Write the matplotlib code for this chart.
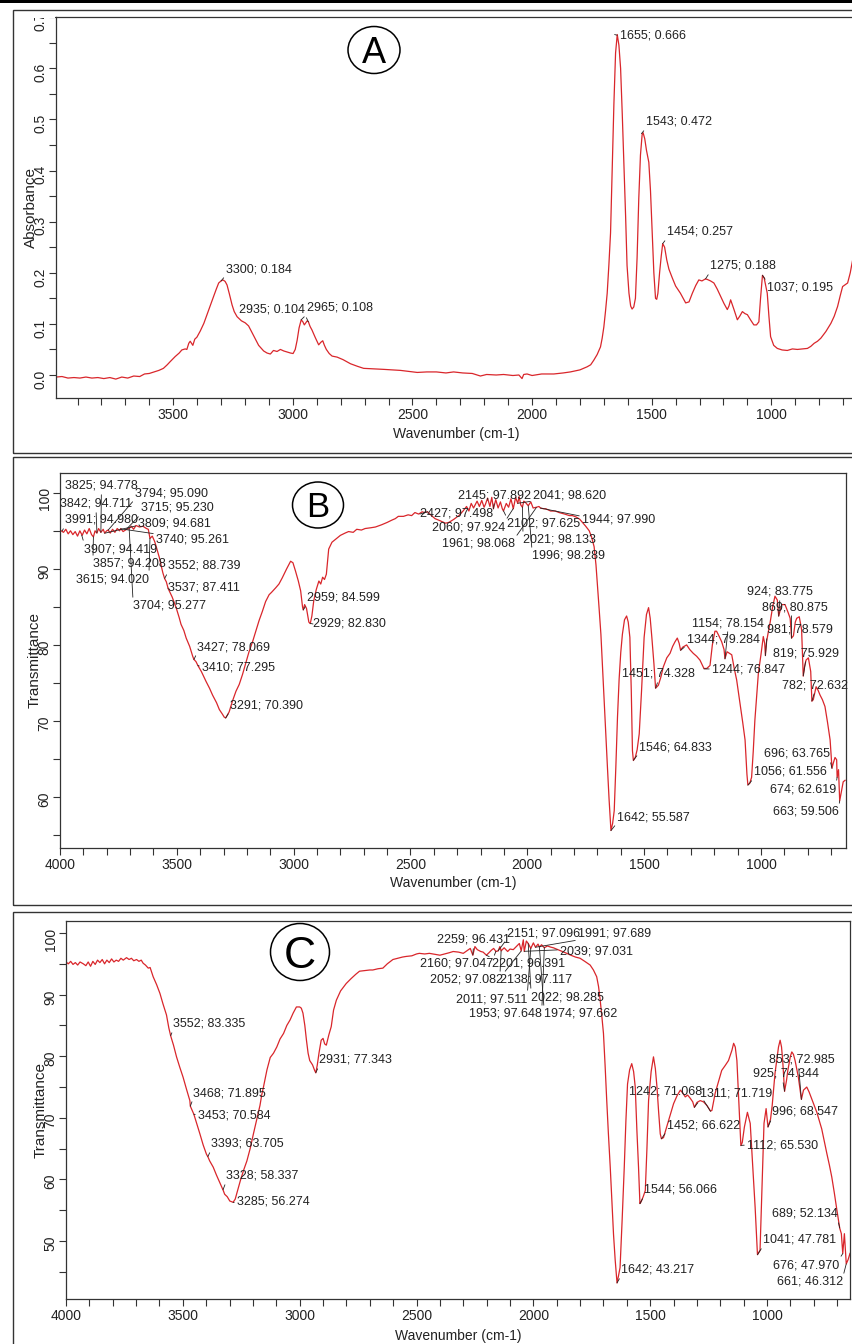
import numpy as np
import matplotlib
matplotlib.use("Agg")
import matplotlib.pyplot as plt
from matplotlib.patches import Rectangle, Ellipse
from matplotlib.ticker import MultipleLocator, FormatStrFormatter

plt.rcParams['font.family'] = ['Liberation Sans', 'DejaVu Sans']

# Spectrum A: (wavenumber, absorbance)
spectrum_a = [
    (3990, -0.004), (3965, -0.003), (3940, -0.006), (3915, -0.005), (3890, -0.006), (3865, -0.004),
    (3840, -0.006), (3815, -0.005), (3790, -0.007), (3765, -0.005), (3740, -0.008), (3715, -0.004),
    (3690, -0.006), (3665, -0.002), (3640, -0.003), (3620, 0.002), (3600, 0.003), (3580, 0.006),
    (3560, 0.009), (3541, 0.013), (3525, 0.020), (3513, 0.026), (3492, 0.036), (3475, 0.043),
    (3464, 0.049), (3450, 0.051), (3443, 0.050), (3435, 0.062), (3429, 0.066), (3418, 0.058),
    (3410, 0.070), (3401, 0.074), (3387, 0.086), (3372, 0.101), (3359, 0.118), (3345, 0.136),
    (3331, 0.154), (3320, 0.168), (3310, 0.180), (3300, 0.184), (3292, 0.186), (3283, 0.183),
    (3275, 0.176), (3265, 0.158), (3254, 0.137), (3245, 0.124), (3233, 0.114), (3215, 0.106),
    (3199, 0.102), (3185, 0.096), (3165, 0.078), (3143, 0.058), (3122, 0.047), (3108, 0.043),
    (3094, 0.041), (3081, 0.048), (3066, 0.046), (3052, 0.050), (3038, 0.047), (3024, 0.045),
    (3010, 0.043), (2999, 0.042), (2990, 0.050), (2982, 0.068), (2974, 0.092), (2965, 0.108),
    (2958, 0.104), (2952, 0.098), (2946, 0.102), (2940, 0.106), (2935, 0.104), (2928, 0.095),
    (2920, 0.088), (2906, 0.073), (2892, 0.059), (2883, 0.064), (2875, 0.067), (2868, 0.058),
    (2860, 0.050), (2848, 0.042), (2836, 0.037), (2815, 0.035), (2790, 0.030), (2759, 0.022),
    (2730, 0.017), (2704, 0.013), (2660, 0.012), (2620, 0.011), (2585, 0.010), (2550, 0.009),
    (2515, 0.007), (2480, 0.005), (2440, 0.006), (2400, 0.006), (2360, 0.004), (2328, 0.006),
    (2290, 0.004), (2250, 0.003), (2216, -0.002), (2190, 0.001), (2150, 0.000), (2119, 0.001),
    (2080, -0.001), (2055, 0.000), (2042, -0.007), (2035, 0.001), (2021, 0.002), (2000, -0.001),
    (1960, 0.002), (1909, 0.002), (1870, 0.004), (1840, 0.006), (1800, 0.010), (1770, 0.016),
    (1755, 0.020), (1742, 0.029), (1728, 0.040), (1714, 0.055), (1707, 0.072), (1700, 0.094),
    (1693, 0.125), (1686, 0.160), (1679, 0.215), (1672, 0.278), (1665, 0.400), (1658, 0.530),
    (1651, 0.630), (1644, 0.666), (1637, 0.645), (1630, 0.600), (1623, 0.510), (1616, 0.410),
    (1609, 0.310), (1603, 0.214), (1595, 0.160), (1588, 0.135), (1582, 0.129), (1575, 0.133),
    (1568, 0.150), (1561, 0.230), (1554, 0.345), (1547, 0.430), (1540, 0.470), (1536, 0.474),
    (1529, 0.462), (1522, 0.440), (1512, 0.416), (1505, 0.360), (1498, 0.278), (1491, 0.200),
    (1484, 0.150), (1479, 0.148), (1474, 0.160), (1467, 0.200), (1460, 0.233), (1454, 0.257),
    (1446, 0.250), (1437, 0.225), (1428, 0.207), (1414, 0.190), (1400, 0.174), (1380, 0.160),
    (1358, 0.141), (1344, 0.143), (1330, 0.160), (1316, 0.175), (1303, 0.186), (1290, 0.184),
    (1275, 0.188), (1268, 0.187), (1254, 0.184), (1240, 0.180), (1226, 0.168), (1212, 0.154),
    (1198, 0.140), (1184, 0.128), (1177, 0.135), (1170, 0.147), (1156, 0.128), (1142, 0.108),
    (1132, 0.115), (1121, 0.124), (1110, 0.120), (1100, 0.118), (1087, 0.108), (1073, 0.098),
    (1062, 0.098), (1052, 0.104), (1045, 0.150), (1037, 0.195), (1030, 0.190), (1017, 0.160),
    (1010, 0.115), (1003, 0.075), (990, 0.058), (975, 0.052), (955, 0.049), (933, 0.048),
    (912, 0.051), (891, 0.050), (870, 0.051), (849, 0.052), (835, 0.056), (821, 0.062),
    (807, 0.066), (793, 0.072), (772, 0.085), (751, 0.101), (737, 0.115), (723, 0.134),
    (712, 0.155), (702, 0.173), (690, 0.177), (681, 0.180), (670, 0.200), (660, 0.226),
    (650, 0.245),
]
peaks_a_wn = [3300, 2935, 2965, 1655, 1543, 1454, 1275, 1037]
peaks_a_val = [0.184, 0.104, 0.108, 0.666, 0.472, 0.257, 0.188, 0.195]

# Spectrum B: (wavenumber, transmittance)
spectrum_b = [
    (4000, 95.1), (3985, 94.8), (3975, 95.2), (3965, 94.6), (3955, 95.0), (3945, 94.5), (3935, 94.9),
    (3925, 94.3), (3915, 95.0), (3905, 94.4), (3895, 95.1), (3885, 94.6), (3875, 95.3), (3865, 94.5),
    (3857, 94.2), (3850, 95.0), (3842, 94.7), (3835, 95.3), (3825, 94.8), (3815, 95.2), (3809, 94.7),
    (3800, 95.0), (3794, 95.1), (3785, 94.7), (3775, 95.2), (3765, 94.8), (3755, 95.3), (3745, 95.0),
    (3740, 95.3), (3730, 94.9), (3715, 95.2), (3704, 95.3), (3695, 95.6), (3685, 95.2), (3675, 95.7),
    (3660, 95.5), (3645, 95.6), (3630, 95.3), (3622, 95.2), (3615, 94.0), (3605, 94.3), (3595, 93.6),
    (3588, 92.9), (3575, 91.5), (3560, 89.5), (3552, 88.7), (3545, 88.3), (3537, 87.4), (3520, 86.3),
    (3503, 84.9), (3490, 83.6), (3482, 82.7), (3470, 81.9), (3460, 80.9), (3445, 79.8), (3432, 78.5),
    (3427, 78.1), (3418, 77.8), (3410, 77.3), (3395, 76.5), (3375, 75.2), (3360, 74.3), (3347, 73.4),
    (3330, 72.4), (3318, 71.5), (3305, 70.9), (3297, 70.5), (3291, 70.4), (3285, 70.7), (3276, 71.2),
    (3262, 72.6), (3247, 73.9), (3233, 74.8), (3219, 76.1), (3205, 77.6), (3191, 79.1), (3176, 80.4),
    (3162, 81.8), (3148, 83.2), (3134, 84.4), (3120, 85.7), (3105, 86.6), (3095, 86.9), (3077, 87.5),
    (3063, 88.0), (3049, 88.8), (3030, 90.0), (3013, 91.0), (3003, 90.8), (2992, 89.7), (2980, 88.4),
    (2970, 87.1), (2962, 85.0), (2959, 84.6), (2953, 85.3), (2945, 84.8), (2935, 83.0), (2929, 82.8),
    (2922, 83.8), (2914, 85.8), (2903, 87.3), (2892, 88.4), (2884, 88.0), (2876, 88.9), (2868, 88.6),
    (2860, 89.3), (2850, 92.6), (2836, 93.5), (2820, 93.9), (2800, 94.4), (2780, 94.7), (2765, 94.9),
    (2745, 94.8), (2730, 95.2), (2710, 95.1), (2694, 95.3), (2670, 95.4), (2650, 95.5), (2623, 95.8),
    (2600, 96.1), (2580, 96.4), (2565, 96.6), (2552, 96.9), (2530, 96.9), (2510, 97.1), (2495, 97.0),
    (2481, 97.4), (2465, 97.2), (2450, 97.5), (2440, 97.4), (2427, 97.5), (2410, 97.0), (2395, 96.6),
    (2379, 96.4), (2365, 96.2), (2350, 96.0), (2336, 96.1), (2315, 96.5), (2293, 97.0), (2275, 97.6),
    (2260, 98.2), (2250, 97.6), (2240, 98.6), (2230, 98.0), (2215, 98.9), (2205, 98.2), (2195, 99.0),
    (2185, 98.1), (2179, 98.5), (2170, 99.3), (2160, 98.2), (2152, 99.4), (2145, 97.9), (2135, 99.1),
    (2125, 98.0), (2115, 98.8), (2107, 97.9), (2102, 97.6), (2090, 98.6), (2080, 98.1), (2070, 99.2),
    (2060, 97.9), (2050, 99.4), (2041, 98.6), (2035, 99.5), (2028, 98.4), (2021, 98.1), (2015, 98.9),
    (2007, 98.7), (1996, 98.3), (1985, 98.8), (1975, 98.0), (1961, 98.1), (1950, 98.2), (1944, 98.0),
    (1930, 97.9), (1921, 97.9), (1900, 97.6), (1880, 97.6), (1864, 97.4), (1840, 97.2), (1820, 97.0),
    (1807, 97.0), (1790, 96.8), (1775, 96.5), (1764, 96.1), (1750, 95.6), (1735, 95.0), (1725, 94.2),
    (1714, 92.9), (1706, 90.5), (1700, 88.0), (1692, 84.5), (1685, 81.4), (1678, 77.0), (1671, 72.6),
    (1664, 68.2), (1657, 63.9), (1650, 59.7), (1642, 55.6), (1635, 56.5), (1628, 58.2), (1621, 64.0),
    (1614, 70.5), (1607, 75.5), (1600, 79.0), (1593, 81.4), (1584, 83.3), (1575, 83.8), (1568, 83.0),
    (1561, 81.0), (1555, 74.0), (1550, 66.1), (1546, 64.8), (1538, 65.2), (1530, 66.2), (1521, 68.3),
    (1511, 74.0), (1500, 81.0), (1490, 84.0), (1481, 84.9), (1474, 83.5), (1467, 81.0), (1458, 77.5),
    (1451, 74.3), (1439, 74.7), (1428, 75.8), (1418, 77.1), (1403, 78.3), (1389, 78.9), (1378, 79.8),
    (1368, 80.4), (1358, 80.9), (1350, 80.2), (1344, 79.3), (1335, 79.7), (1318, 80.0), (1305, 79.4),
    (1290, 78.9), (1275, 78.5), (1261, 78.0), (1244, 76.9), (1232, 76.9), (1218, 77.3), (1208, 80.0),
    (1197, 81.8), (1190, 81.8), (1180, 81.2), (1168, 80.4), (1158, 79.4), (1154, 78.2), (1145, 79.1),
    (1135, 78.9), (1125, 78.7), (1115, 77.0), (1104, 75.4), (1090, 72.4), (1078, 69.8), (1068, 67.5),
    (1060, 63.0), (1056, 61.6), (1048, 61.8), (1040, 62.6), (1033, 66.0), (1026, 70.1), (1018, 73.5),
    (1011, 76.3), (1000, 78.7), (990, 81.1), (984, 80.2), (981, 78.6), (976, 80.4), (968, 81.8),
    (961, 82.9), (950, 85.0), (940, 86.4), (930, 85.9), (924, 83.8), (917, 84.6), (911, 85.3),
    (897, 85.3), (883, 84.2), (875, 83.5), (869, 80.9), (861, 81.2), (853, 83.0), (847, 83.5),
    (836, 83.7), (826, 82.0), (819, 75.9), (813, 77.2), (807, 78.0), (797, 78.3), (787, 76.5),
    (782, 72.6), (776, 72.8), (764, 74.5), (755, 74.0), (747, 73.4), (737, 72.8), (726, 71.9),
    (715, 69.8), (704, 67.5), (696, 63.8), (690, 64.5), (683, 65.2), (676, 64.9), (674, 62.6),
    (668, 63.6), (663, 59.5), (657, 60.5), (648, 62.0), (640, 62.2),
]
peaks_b_wn = [3825, 3794, 3842, 3715, 3991, 3809, 3740, 3907, 3857, 3615, 3704, 3552, 3537,
              3427, 3410, 3291, 2959, 2929, 2427, 2145, 2041, 2060, 2102, 1944, 1961, 2021,
              1996, 1451, 1546, 1642, 1154, 1344, 1244, 924, 869, 981, 819, 782, 696, 1056,
              674, 663]
peaks_b_val = [94.778, 95.090, 94.711, 95.230, 94.980, 94.681, 95.261, 94.419, 94.208, 94.020,
               95.277, 88.739, 87.411, 78.069, 77.295, 70.390, 84.599, 82.830, 97.498, 97.892,
               98.620, 97.924, 97.625, 97.990, 98.068, 98.133, 98.289, 74.328, 64.833, 55.587,
               78.154, 79.284, 76.847, 83.775, 80.875, 78.579, 75.929, 72.632, 63.765, 61.556,
               62.619, 59.506]

# Spectrum C: (wavenumber, transmittance)
spectrum_c = [
    (4000, 95.3), (3990, 95.0), (3980, 95.4), (3970, 94.9), (3960, 95.2), (3950, 94.8), (3940, 95.3),
    (3926, 95.0), (3915, 94.7), (3905, 95.3), (3895, 94.6), (3885, 95.4), (3875, 94.9), (3865, 95.6),
    (3855, 95.2), (3845, 95.7), (3835, 95.0), (3825, 95.6), (3815, 95.2), (3805, 95.8), (3795, 95.3),
    (3785, 95.6), (3775, 95.4), (3765, 95.9), (3755, 95.6), (3741, 96.0), (3730, 95.7), (3720, 95.9),
    (3710, 95.5), (3698, 95.7), (3688, 95.4), (3678, 95.6), (3670, 95.1), (3660, 94.8), (3648, 94.3),
    (3640, 94.4), (3627, 92.9), (3612, 91.6), (3598, 90.2), (3585, 88.5), (3570, 86.7), (3560, 84.6),
    (3552, 83.3), (3540, 81.8), (3527, 79.9), (3513, 78.2), (3499, 76.6), (3484, 74.6), (3470, 72.8),
    (3468, 71.9), (3453, 70.6), (3440, 69.0), (3427, 67.4), (3413, 65.6), (3399, 64.1), (3393, 63.7),
    (3385, 63.0), (3370, 62.0), (3356, 60.7), (3342, 59.5), (3328, 58.3), (3321, 57.6), (3310, 57.2),
    (3299, 56.5), (3285, 56.3), (3276, 56.8), (3265, 58.3), (3254, 59.8), (3240, 61.5), (3226, 63.0),
    (3212, 65.0), (3198, 67.4), (3185, 69.5), (3170, 72.0), (3162, 73.8), (3155, 75.0), (3140, 77.8),
    (3126, 79.8), (3112, 80.5), (3098, 81.5), (3084, 82.8), (3069, 83.7), (3055, 85.0), (3041, 85.9),
    (3028, 87.0), (3014, 88.0), (3000, 88.0), (2993, 87.8), (2986, 87.0), (2978, 85.0), (2971, 82.6),
    (2964, 80.5), (2957, 79.3), (2945, 78.6), (2936, 77.7), (2931, 77.3), (2925, 78.5), (2917, 80.6),
    (2908, 82.6), (2900, 82.9), (2893, 82.0), (2886, 81.8), (2875, 83.5), (2865, 84.8), (2855, 87.5),
    (2843, 89.1), (2825, 90.6), (2801, 91.8), (2780, 92.6), (2760, 93.3), (2744, 93.8), (2720, 93.9),
    (2700, 94.0), (2687, 94.0), (2665, 94.2), (2644, 94.3), (2625, 95.0), (2601, 95.7), (2580, 95.9),
    (2560, 96.1), (2544, 96.2), (2520, 96.3), (2500, 96.6), (2488, 96.7), (2465, 96.6), (2445, 96.7),
    (2430, 96.6), (2414, 96.5), (2400, 96.4), (2380, 96.6), (2360, 96.8), (2343, 97.0), (2320, 96.9),
    (2300, 96.7), (2285, 97.1), (2270, 97.5), (2259, 96.4), (2250, 97.8), (2240, 97.3), (2225, 97.0),
    (2215, 96.9), (2201, 96.4), (2190, 96.8), (2180, 97.2), (2170, 97.5), (2160, 97.0), (2151, 97.1),
    (2143, 97.8), (2138, 97.1), (2125, 97.6), (2110, 97.0), (2100, 97.4), (2086, 97.3), (2070, 97.9),
    (2060, 98.3), (2052, 97.1), (2043, 98.9), (2039, 97.0), (2030, 98.7), (2022, 98.3), (2011, 97.5),
    (2000, 98.4), (1991, 97.7), (1980, 98.2), (1974, 97.7), (1965, 98.1), (1953, 97.6), (1940, 97.9),
    (1925, 97.7), (1914, 97.6), (1895, 97.3), (1875, 97.0), (1857, 96.7), (1840, 96.4), (1820, 96.1),
    (1800, 95.9), (1780, 95.4), (1757, 94.8), (1743, 94.0), (1729, 92.9), (1721, 91.3), (1714, 89.1),
    (1707, 86.5), (1700, 83.7), (1693, 78.5), (1686, 72.8), (1679, 67.5), (1671, 62.0), (1664, 56.5),
    (1657, 51.1), (1650, 47.0), (1642, 43.2), (1636, 44.3), (1629, 45.7), (1620, 53.5), (1611, 62.0),
    (1604, 69.5), (1597, 75.5), (1588, 77.8), (1579, 78.8), (1571, 77.5), (1564, 75.0), (1557, 68.0),
    (1550, 62.0), (1544, 56.1), (1540, 56.3), (1530, 57.2), (1521, 58.2), (1514, 65.0), (1507, 72.8),
    (1496, 77.5), (1486, 79.9), (1478, 78.0), (1471, 75.0), (1464, 71.0), (1457, 67.4), (1452, 66.6),
    (1443, 66.8), (1432, 68.2), (1421, 69.6), (1410, 71.0), (1400, 72.3), (1385, 73.6), (1371, 74.5),
    (1360, 74.0), (1350, 73.4), (1340, 73.7), (1329, 73.2), (1318, 72.6), (1311, 71.7), (1300, 72.5),
    (1286, 72.8), (1272, 72.6), (1257, 72.0), (1242, 71.1), (1236, 71.2), (1222, 74.0), (1207, 76.0),
    (1194, 77.7), (1179, 78.5), (1165, 79.3), (1150, 81.0), (1143, 82.1), (1136, 81.5), (1129, 79.3),
    (1120, 72.0), (1112, 65.5), (1106, 66.0), (1097, 68.5), (1084, 70.9), (1072, 69.1), (1061, 62.0),
    (1051, 55.5), (1041, 47.8), (1030, 48.5), (1022, 58.2), (1013, 69.1), (1004, 71.5), (996, 68.5),
    (985, 69.8), (978, 72.0), (966, 77.2), (951, 81.5), (944, 82.6), (938, 81.5), (933, 79.3),
    (925, 74.3), (917, 76.0), (911, 77.7), (900, 80.0), (894, 80.7), (887, 80.3), (880, 79.3),
    (866, 76.6), (853, 73.0), (844, 74.5), (830, 75.0), (820, 74.2), (809, 73.1), (798, 72.0),
    (787, 70.9), (776, 69.5), (766, 68.2), (755, 66.2), (744, 64.2), (733, 62.3), (723, 60.4),
    (712, 57.8), (701, 55.0), (689, 52.1), (682, 51.2), (676, 48.0), (669, 51.2), (661, 46.3),
    (653, 47.0), (645, 48.0),
]
peaks_c_wn = [3552, 3468, 3453, 3393, 3328, 3285, 2931, 2259, 2151, 1991, 2039, 2160, 2201,
              2052, 2138, 2011, 2022, 1953, 1974, 1242, 1311, 1452, 1544, 1642, 853, 925, 996,
              1112, 689, 1041, 676, 661]
peaks_c_val = [83.335, 71.895, 70.584, 63.705, 58.337, 56.274, 77.343, 96.431, 97.096, 97.689,
               97.031, 97.047, 96.391, 97.082, 97.117, 97.511, 98.285, 97.648, 97.662, 71.068,
               71.719, 66.622, 56.066, 43.217, 72.985, 74.344, 68.547, 65.530, 52.134, 47.781,
               47.970, 46.312]

# label placement (figure pixels from top-left: x, baseline y, leader start relpos)
labels_a_pos = [(226, 272, (0, 0)), (239, 312, (1, 0)), (307, 311, (0, 0)), (620, 39, (0, 0.5)),
                (646, 125, (0, 0)), (667, 235, (0, 0)), (710, 269, (0, 0)), (767, 291, (0, 1))]
labels_b_pos = [(65, 489, (0.5, 0)), (135, 496, (0, 0)), (60, 507, (0.5, 0)), (141, 511, (0, 0)),
                (65, 523, (0, 0)), (138, 526, (0, 0.3)), (156, 543, (0, 1)), (84, 552, (0, 1)),
                (93, 567, (0, 1)), (76, 582, (1, 1)), (133, 609, (0, 1)), (168, 569, (0, 0)),
                (168, 591, (0, 0.5)), (197, 650, (0, 0)), (202, 670, (0, 0.5)), (230, 708, (0, 0)),
                (307, 601, (0, 0)), (313, 627, (0, 0.5)), (420, 517, (0, 0.5)), (458, 498, (0.5, 0)),
                (533, 498, (0, 0)), (432, 530, (1, 1)), (507, 527, (0, 1)), (582, 523, (0, 0.8)),
                (442, 547, (1, 1)), (523, 543, (0, 1)), (532, 559, (0, 1)), (622, 677, (0.5, 0)),
                (639, 750, (0, 0)), (617, 820, (0, 0)), (692, 626, (0.5, 0)), (687, 642, (0, 0)),
                (712, 672, (0, 0.5)), (747, 595, (0.5, 0)), (762, 610, (0.45, 0)), (767, 633, (0, 0)),
                (773, 656, (0.5, 0)), (782, 688, (0.5, 0)), (764, 757, (1, 0)), (754, 775, (0, 0)),
                (770, 792, (1, 1)), (773, 815, (1, 1))]
labels_c_pos = [(173, 1027, (0, 0)), (193, 1096, (0, 0)), (198, 1118, (0, 0.5)), (211, 1147, (0, 0)),
                (226, 1179, (0, 0)), (237, 1205, (0, 0.5)), (319, 1063, (0, 0)), (437, 943, (0.5, 0)),
                (507, 936, (0, 0)), (578, 937, (0, 0)), (560, 954, (0, 0.6)), (420, 967, (1, 1)),
                (492, 967, (0, 1)), (430, 983, (1, 1)), (500, 983, (0, 1)), (456, 1002, (1, 1)),
                (531, 1000, (0, 1)), (469, 1017, (1, 1)), (544, 1017, (0, 1)), (629, 1095, (1, 0)),
                (700, 1097, (0, 0)), (667, 1128, (0, 0)), (644, 1193, (0, 0)), (621, 1273, (0, 0)),
                (769, 1063, (0.45, 0)), (753, 1077, (0.45, 0)), (772, 1115, (0, 0)), (747, 1148, (0, 0.5)),
                (772, 1217, (1, 0)), (763, 1243, (0, 0)), (773, 1268, (1, 1)), (777, 1285, (1, 1))]

W, H = 853, 1344
RED = '#d9262b'
INK = '#222222'
fig = plt.figure(figsize=(W / 100, H / 100), dpi=100)
fig.patch.set_facecolor('white')


def add_axes_px(left, top, right, bottom):
    return fig.add_axes([left / W, 1 - bottom / H, (right - left) / W, (bottom - top) / H])


def style_axes(ax, xlim, ylim, ymaj, ymin, yfmt, ylabel, ylab_x, xlab_y):
    ax.set_xlim(*xlim)
    ax.set_ylim(*ylim)
    ax.xaxis.set_major_locator(MultipleLocator(500))
    ax.xaxis.set_minor_locator(MultipleLocator(100))
    ax.yaxis.set_major_locator(MultipleLocator(ymaj))
    ax.yaxis.set_minor_locator(MultipleLocator(ymin))
    ax.yaxis.set_major_formatter(FormatStrFormatter(yfmt))
    ax.tick_params(which='both', direction='out', length=5, width=0.8, color='#333333',
                   labelsize=10, labelcolor=INK)
    ax.tick_params(axis='y', labelrotation=90, pad=1)
    ax.tick_params(axis='x', pad=2.5)
    for s in ax.spines.values():
        s.set_color('#333333')
        s.set_linewidth(0.9)
    ax.set_xlabel('Wavenumber (cm-1)', fontsize=10, color=INK)
    ax.set_ylabel(ylabel, fontsize=11, color=INK)
    ax.xaxis.label.set_va('center')
    ax.yaxis.label.set_va('center')
    ax.xaxis.set_label_coords(0.5, xlab_y)
    ax.yaxis.set_label_coords(ylab_x, 0.5)


def add_labels(ax, wns, vals, layout):
    for wn, v, (px, py, rp) in zip(wns, vals, layout):
        ax.annotate(f"{wn}; {v:.3f}", xy=(wn, v), xycoords='data',
                    xytext=(px, H - py), textcoords='figure pixels',
                    ha='left', va='baseline', fontsize=9, color=INK,
                    arrowprops=dict(arrowstyle='-', color=INK, lw=0.6,
                                    shrinkA=0, shrinkB=0, relpos=rp),
                    annotation_clip=False)


def panel_letter(letter, cx, cy, w, h, size, base_y):
    fig.add_artist(Ellipse((cx / W, 1 - cy / H), w / W, h / H, transform=fig.transFigure,
                           fill=False, edgecolor='black', lw=1.1))
    fig.text(cx / W, 1 - base_y / H, letter, ha='center', va='baseline',
             fontsize=size, color='black')


# Panel A
ax_a = add_axes_px(56, 17, 856, 398)
a = np.array(spectrum_a)
ax_a.plot(a[:, 0], a[:, 1], color=RED, lw=0.9)
style_axes(ax_a, (3990, 646), (-0.045, 0.7003), 0.1, 0.05, '%.1f', 'Absorbance',
           (31 - 56) / 800, (398 - 434) / 381)
add_labels(ax_a, peaks_a_wn, peaks_a_val, labels_a_pos)

# Panel B
ax_b = add_axes_px(60, 473, 846, 848)
b = np.array(spectrum_b)
ax_b.plot(b[:, 0], b[:, 1], color=RED, lw=0.9)
style_axes(ax_b, (4000, 636), (53.3, 102.6), 10, 5, '%d', 'Transmittance',
           (35 - 60) / 786, (848 - 883) / 375)
add_labels(ax_b, peaks_b_wn, peaks_b_val, labels_b_pos)

# Panel C
ax_c = add_axes_px(66, 921, 850, 1299)
c = np.array(spectrum_c)
ax_c.plot(c[:, 0], c[:, 1], color=RED, lw=0.9)
style_axes(ax_c, (4000, 645), (40.6, 101.95), 10, 5, '%d', 'Transmittance',
           (41 - 66) / 784, (1299 - 1336) / 378)
add_labels(ax_c, peaks_c_wn, peaks_c_val, labels_c_pos)

# page decoration: the top "0.7" label is cut off at the plot edge in the source
fig.add_artist(Rectangle((14 / W, 1 - 18 / H), (55 - 14) / W, 15 / H, transform=fig.transFigure,
                         facecolor='white', edgecolor='none', zorder=5))
fig.add_artist(Rectangle((0, 1 - 3 / H), 1, 3 / H, transform=fig.transFigure,
                         color='black', lw=0, zorder=6))
for top, bottom in [(10, 453), (457, 905), (912, 1370)]:
    fig.add_artist(Rectangle((13 / W, 1 - bottom / H), (880 - 13) / W, (bottom - top) / H,
                             transform=fig.transFigure, fill=False,
                             edgecolor='#333333', lw=1.0, zorder=6))

panel_letter('A', 374, 50, 52, 47, 26, 63)
panel_letter('B', 318, 505, 51, 46, 25, 517)
panel_letter('C', 300, 952, 59, 57, 32, 968)

fig.savefig('out.png', dpi=100, facecolor='white')
